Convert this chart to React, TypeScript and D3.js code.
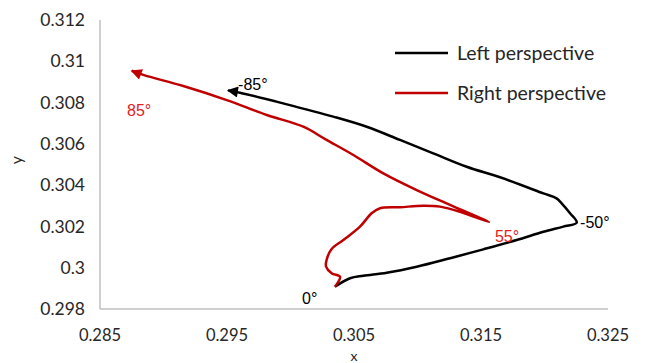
import React, { useRef, useEffect } from "react";
import * as d3 from "d3";

// x/y pairs, ordered from 0° outward
const leftX = [0.3035, 0.30469, 0.30573, 0.30758, 0.30994, 0.31256, 0.31518, 0.31781, 0.31991, 0.32148, 0.32254,
  0.32201, 0.32135, 0.32095, 0.31991, 0.3165, 0.31387, 0.31124, 0.30862, 0.306, 0.30337, 0.29943, 0.29602, 0.29508];
const leftY = [0.29908, 0.29949, 0.29961, 0.29976, 0.30005, 0.30046, 0.30089, 0.30134, 0.30174, 0.30199, 0.30218,
  0.30264, 0.30312, 0.30336, 0.3036, 0.30438, 0.30489, 0.30554, 0.30619, 0.30683, 0.30732, 0.30796, 0.30848, 0.30859];

const rightX = [0.3035, 0.3039, 0.30324, 0.3028, 0.30284, 0.30324, 0.30416, 0.30547, 0.30639, 0.30705, 0.30862, 0.31046,
  0.31177, 0.31335, 0.31563, 0.31256, 0.30994, 0.30731, 0.30495, 0.30284, 0.30101, 0.29813, 0.29498, 0.29156, 0.28841, 0.2875];
const rightY = [0.29908, 0.29956, 0.29973, 0.30005, 0.30037, 0.30091, 0.30134, 0.30199, 0.30264, 0.30288, 0.30293, 0.303,
  0.30296, 0.30271, 0.30221, 0.30304, 0.30376, 0.30457, 0.30546, 0.30619, 0.30683, 0.3074, 0.30812, 0.3088, 0.30934, 0.30954];

const xTicks = [0.285, 0.295, 0.305, 0.315, 0.325];
const yTicks = [0.298, 0.3, 0.302, 0.304, 0.306, 0.308, 0.31, 0.312];
const yTickLabels = ["0.298", "0.3", "0.302", "0.304", "0.306", "0.308", "0.31", "0.312"];

const seriesNames = ["Left perspective", "Right perspective"];
const seriesColors = ["#000000", "#c00000"];

// angle annotations: [x, y, text, series]
const angleLabels: [number, number, string, number][] = [
  [0.30091, 0.29853, "0°", 0],
  [0.29587, 0.3089, "-85°", 0],
  [0.3228, 0.30221, "-50°", 0],
  [0.28713, 0.30764, "85°", 1],
  [0.3161, 0.30154, "55°", 1],
];

const App = () => {
  const chart = useRef<SVGSVGElement>(null);

  useEffect(() => {
    const svg = d3.select(chart.current);
    svg.selectAll("*").remove();

    const x = d3.scaleLinear().domain([0.285, 0.325]).range([100, 608]);
    const y = d3.scaleLinear().domain([0.298, 0.312]).range([309, 20]);

    const font = "Lato, 'Open Sans', sans-serif";

    // arrow heads
    const defs = svg.append("defs");
    seriesColors.forEach((c, i) => {
      defs.append("marker")
        .attr("id", "arrow" + i)
        .attr("viewBox", "0 0 10 10")
        .attr("refX", 9)
        .attr("refY", 5)
        .attr("markerWidth", 14)
        .attr("markerHeight", 11)
        .attr("markerUnits", "userSpaceOnUse")
        .attr("orient", "auto")
        .append("path")
          .attr("d", "M0,0 L10,5 L0,10 Z")
          .attr("fill", c);
    });

    // axes
    svg.append("line")
      .attr("x1", x(0.285)).attr("x2", x(0.285))
      .attr("y1", y(0.312)).attr("y2", y(0.298))
      .attr("stroke", "#bfbfbf").attr("stroke-width", 1.5);
    svg.append("line")
      .attr("x1", x(0.285)).attr("x2", x(0.325))
      .attr("y1", y(0.298)).attr("y2", y(0.298))
      .attr("stroke", "#bfbfbf").attr("stroke-width", 1.5);

    svg.append("g")
      .selectAll("text")
      .data(yTicks)
      .join("text")
        .attr("x", 85)
        .attr("y", d => y(d))
        .attr("dy", "0.35em")
        .attr("text-anchor", "end")
        .attr("font-family", font)
        .attr("font-size", 17.5)
        .attr("fill", "#262626")
        .text((d, i) => yTickLabels[i]);

    svg.append("g")
      .selectAll("text")
      .data(xTicks)
      .join("text")
        .attr("x", d => x(d))
        .attr("y", 341)
        .attr("text-anchor", "middle")
        .attr("font-family", font)
        .attr("font-size", 16.5)
        .attr("fill", "#262626")
        .text(d => String(d));

    svg.append("text")
      .attr("x", x(0.305))
      .attr("y", 361)
      .attr("text-anchor", "middle")
      .attr("font-family", font)
      .attr("font-size", 14)
      .attr("fill", "#262626")
      .text("x");

    svg.append("text")
      .attr("transform", "translate(22,160) rotate(-90)")
      .attr("text-anchor", "middle")
      .attr("font-family", font)
      .attr("font-size", 16)
      .attr("fill", "#262626")
      .text("y");

    // curves
    const line = d3.line<[number, number]>()
      .x(d => x(d[0]))
      .y(d => y(d[1]))
      .curve(d3.curveCatmullRom.alpha(0.5));

    const series = [
      leftX.map((v, i) => [v, leftY[i]] as [number, number]),
      rightX.map((v, i) => [v, rightY[i]] as [number, number]),
    ];

    svg.append("g")
      .selectAll("path")
      .data(series)
      .join("path")
        .attr("d", d => line(d))
        .attr("fill", "none")
        .attr("stroke", (d, i) => seriesColors[i])
        .attr("stroke-width", 2.5)
        .attr("stroke-linejoin", "round")
        .attr("marker-end", (d, i) => `url(#arrow${i})`);

    // angle labels
    svg.append("g")
      .selectAll("text")
      .data(angleLabels)
      .join("text")
        .attr("x", d => x(d[0]))
        .attr("y", d => y(d[1]))
        .attr("dy", "0.35em")
        .attr("font-family", "'Liberation Sans', Arial, sans-serif")
        .attr("font-size", 16)
        .attr("fill", d => (d[3] === 1 ? "#e0201a" : "#000"))
        .text(d => d[2]);

    // legend
    const legend = svg.append("g");
    seriesNames.forEach((name, i) => {
      const ly = 53 + i * 40;
      legend.append("line")
        .attr("x1", 395).attr("x2", 448)
        .attr("y1", ly).attr("y2", ly)
        .attr("stroke", seriesColors[i])
        .attr("stroke-width", 2.5);
      legend.append("text")
        .attr("x", 457)
        .attr("y", ly)
        .attr("dy", "0.35em")
        .attr("font-family", font)
        .attr("font-size", 19.5)
        .attr("fill", "#262626")
        .text(name);
    });
  });

  return (
    <div id="chartArea">
      <svg ref={chart} width={646} height={363}
        style={{ position: "absolute", left: 0, top: 0, background: "#fff" }}></svg>
    </div>
  );
};

export default App;
